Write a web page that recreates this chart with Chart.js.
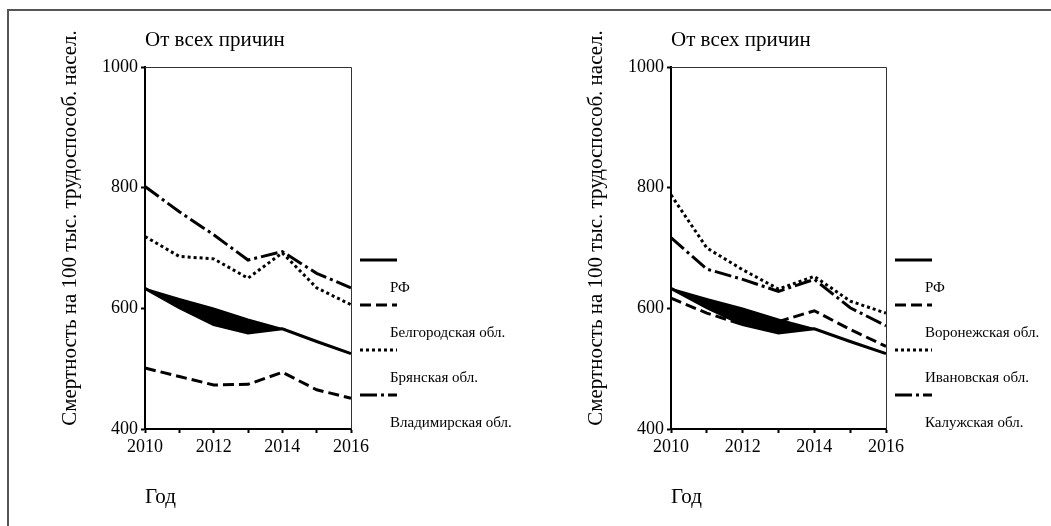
<!DOCTYPE html>
<html>
<head>
<meta charset="utf-8">
<script src="https://cdn.jsdelivr.net/npm/chart.js@4/dist/chart.umd.min.js"></script>
<style>
  body { margin: 0; background: #fff; }
  #wrap { position: relative; width: 1051px; height: 526px; overflow: hidden; }
  canvas { position: absolute; top: 0; }
  #frame { position: absolute; left: 7px; top: 9px; right: -10px; bottom: -10px;
           border-top: 2px solid #555; border-left: 2px solid #555; pointer-events: none; }
</style>
</head>
<body>
<div id="wrap">
  <canvas id="chartLeft" width="525" height="526" style="left:0"></canvas>
  <canvas id="chartRight" width="525" height="526" style="left:526px"></canvas>
  <div id="frame"></div>
</div>
<script>
const years = ['2010', '2011', '2012', '2013', '2014', '2015', '2016'];
const yTicks = [400, 600, 800, 1000];

const rf = [633, 601, 573, 559, 566, 545, 525];
// upper edge of the black wedge under the RF line
const rfEdge = [633, 616, 600, 582, 566, null, null];

const belgorod = [501, 487, 473, 474, 494, 465, 451];
const bryansk = [719, 686, 682, 650, 692, 634, 606];
const vladimir = [802, 760, 722, 680, 694, 658, 634];

const voronezh = [617, 592, 573, 578, 596, 565, 537];
const ivanovo = [788, 700, 664, 632, 653, 612, 592];
const kaluga = [717, 665, 648, 628, 648, 601, 571];

const titleText = 'От всех причин';
const yTitle = 'Смертность на 100 тыс. трудоспособ. насел.';
const xTitle = 'Год';

const SERIF = '"Liberation Serif", "DejaVu Serif", serif';
const DASHED = [11, 5];
const DOTTED = [3, 3];
const DASHDOT = [17, 4, 3, 4];

function makeDatasets(regions) {
  let sets = [
    {label: 'РФ', data: rf, borderDash: []},
    {label: '', data: rfEdge, borderDash: [], borderWidth: 1.5, fill: '-1',
     backgroundColor: '#000', legend: false}
  ];
  regions.forEach(r => sets.push({label: r.label, data: r.data, borderDash: r.dash}));
  return sets.map(s => Object.assign({
    borderColor: '#000',
    borderWidth: 3,
    pointRadius: 0,
    tension: 0,
    fill: false,
    borderCapStyle: 'butt',
    spanGaps: false
  }, s));
}

const extras = {
  id: 'extras',
  afterDraw(chart) {
    const {ctx, chartArea: a} = chart;
    ctx.save();
    // top and right frame of the plot
    ctx.strokeStyle = '#333';
    ctx.lineWidth = 1;
    ctx.beginPath();
    ctx.moveTo(a.left, a.top + 0.5);
    ctx.lineTo(a.right + 0.5, a.top + 0.5);
    ctx.lineTo(a.right + 0.5, a.bottom);
    ctx.stroke();

    ctx.fillStyle = '#000';
    ctx.font = '21px ' + SERIF;
    ctx.textAlign = 'left';
    ctx.textBaseline = 'middle';
    ctx.fillText(titleText, a.left, 40);

    ctx.save();
    ctx.translate(a.left - 75, 228);
    ctx.rotate(-Math.PI / 2);
    ctx.textAlign = 'center';
    ctx.fillText(yTitle, 0, 0);
    ctx.restore();

    // legend: sample line above, label below
    let row = 0;
    ctx.font = '15px ' + SERIF;
    chart.data.datasets.forEach(ds => {
      if (ds.legend === false) return;
      const y = 260 + row * 45;
      ctx.strokeStyle = '#000';
      ctx.lineWidth = 3;
      ctx.setLineDash(ds.borderDash);
      ctx.beginPath();
      ctx.moveTo(a.right + 9, y);
      ctx.lineTo(a.right + 46, y);
      ctx.stroke();
      ctx.setLineDash([]);
      ctx.fillText(ds.label, a.right + 39, y + 28);
      row++;
    });
    ctx.restore();
  }
};

function drawChart(canvasId, regions, rightPad) {
  const config = {
    type: 'line',
    data: {labels: years, datasets: makeDatasets(regions)},
    options: {
      responsive: false,
      animation: false,
      layout: {padding: {left: 0, top: 67, right: rightPad, bottom: 0}},
      plugins: {legend: {display: false}, tooltip: {enabled: false}},
      scales: {
        x: {
          type: 'category',
          offset: false,
          grid: {drawOnChartArea: false, color: '#000', tickLength: 4, tickWidth: 2},
          border: {display: true, color: '#000', width: 2},
          ticks: {
            autoSkip: false,
            maxRotation: 0,
            color: '#000',
            font: {family: SERIF, size: 18},
            callback: function (value, index) {
              return index % 2 === 0 ? this.getLabelForValue(value) : '';
            }
          },
          title: {display: true, text: xTitle, align: 'start', color: '#000',
                  font: {family: SERIF, size: 21}, padding: {top: 0, bottom: 16}},
          afterFit: scale => { scale.height = 97; }
        },
        y: {
          min: 400,
          max: 1000,
          afterBuildTicks: scale => { scale.ticks = yTicks.map(v => ({value: v})); },
          grid: {drawOnChartArea: false, color: '#000', tickLength: 4, tickWidth: 2},
          border: {display: true, color: '#000', width: 2},
          ticks: {color: '#000', padding: 3, font: {family: SERIF, size: 18},
                  callback: v => String(v)},
          afterFit: scale => { scale.width = 145; }
        }
      }
    },
    plugins: [extras]
  };
  return new Chart(document.getElementById(canvasId).getContext('2d'), config);
}

drawChart('chartLeft', [
  {label: 'Белгородская обл.', data: belgorod, dash: DASHED},
  {label: 'Брянская обл.', data: bryansk, dash: DOTTED},
  {label: 'Владимирская обл.', data: vladimir, dash: DASHDOT}
], 174);

drawChart('chartRight', [
  {label: 'Воронежская обл.', data: voronezh, dash: DASHED},
  {label: 'Ивановская обл.', data: ivanovo, dash: DOTTED},
  {label: 'Калужская обл.', data: kaluga, dash: DASHDOT}
], 165);
</script>
</body>
</html>
